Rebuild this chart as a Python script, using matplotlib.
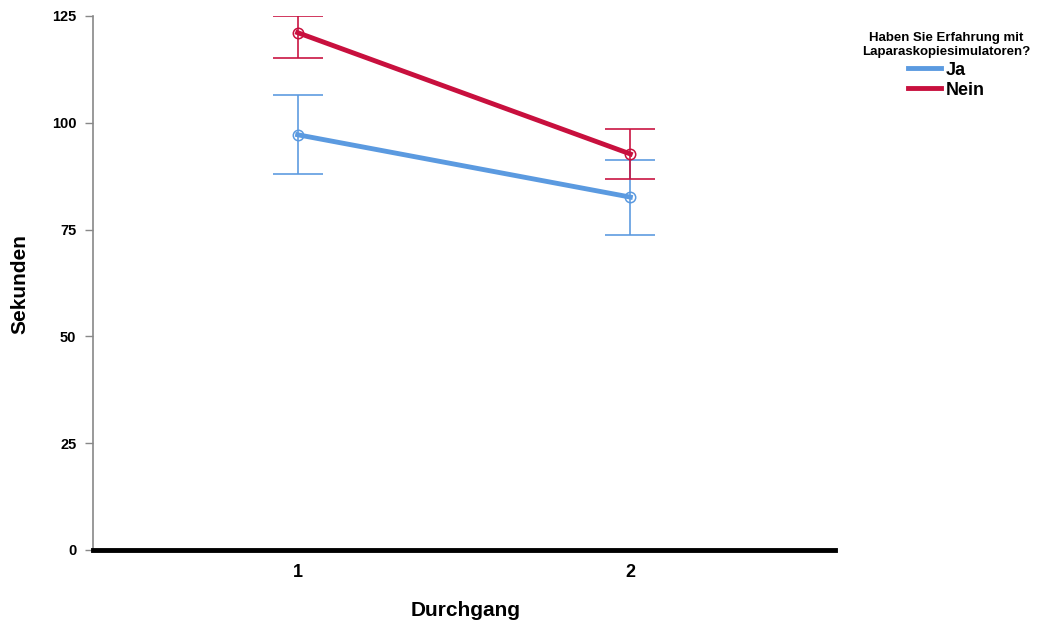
import numpy as np
import matplotlib.pyplot as plt

# Data
durchgang = [1, 2]
ja_mean = [97.2, 82.6]
ja_low = [88.0, 73.7]
ja_high = [106.4, 91.4]
nein_mean = [121.1, 92.7]
nein_low = [115.1, 86.9]
nein_high = [124.9, 98.6]
yticks = [0, 25, 50, 75, 100, 125]

blue = "#5b9ae0"
red = "#c8103e"

plt.rcParams['font.family'] = ['Liberation Sans', 'DejaVu Sans']

fig = plt.figure(figsize=(10.38, 6.24), dpi=100)
ax = fig.add_axes([0.0896, 0.1186, 0.7148, 0.8558])

series = [("Ja", ja_mean, ja_low, ja_high, blue),
          ("Nein", nein_mean, nein_low, nein_high, red)]

for name, m, lo, hi, col in series:
    m = np.array(m)
    err = [m - np.array(lo), np.array(hi) - m]
    ax.errorbar(durchgang, m, yerr=err, fmt="none", ecolor=col, elinewidth=1.3,
                capsize=18, capthick=1.3, alpha=0.9, zorder=2)
    ax.plot(durchgang, m, "-", color=col, lw=3.5, label=name, zorder=3)
    ax.plot(durchgang, m, "o", mfc="none", mec=col, ms=7.5, mew=1.1, zorder=4)

ax.set_xlim(0.385, 2.615)
ax.set_ylim(0, 125)
ax.set_xticks(durchgang)
ax.set_xticklabels([str(d) for d in durchgang], fontsize=13, fontweight="bold")
ax.set_yticks(yticks)
ax.set_yticklabels([str(t) for t in yticks], fontsize=10.5, fontweight="bold")
ax.tick_params(axis="x", length=0, pad=10)
ax.tick_params(axis="y", length=6, color="#888888", width=1, pad=6)

for s in ["top", "right"]:
    ax.spines[s].set_visible(False)
ax.spines["left"].set_color("#888888")
ax.spines["left"].set_linewidth(1.2)
ax.spines["bottom"].set_color("black")
ax.spines["bottom"].set_linewidth(3.5)
ax.spines["bottom"].set_zorder(5)

fig.text(466 / 1038, 1 - 610 / 624, "Durchgang", fontsize=15, fontweight="bold",
         ha="center", va="center")
fig.text(20 / 1038, 1 - 284 / 624, "Sekunden", fontsize=15, fontweight="bold",
         ha="center", va="center", rotation=90)

leg = fig.legend(loc="upper center", bbox_to_anchor=(0.912, 0.975), frameon=False,
                 title="Haben Sie Erfahrung mit\nLaparaskopiesimulatoren?",
                 prop={"size": 13, "weight": "bold"}, handlelength=1.8,
                 handletextpad=0.3, labelspacing=0.15)
leg.get_title().set_fontsize(9.5)
leg.get_title().set_fontweight("bold")
leg.get_title().set_multialignment("center")
leg._legend_box.sep = 3
for h in leg.legend_handles:
    h.set_linewidth(3.5)

fig.savefig("out.png", dpi=100)
